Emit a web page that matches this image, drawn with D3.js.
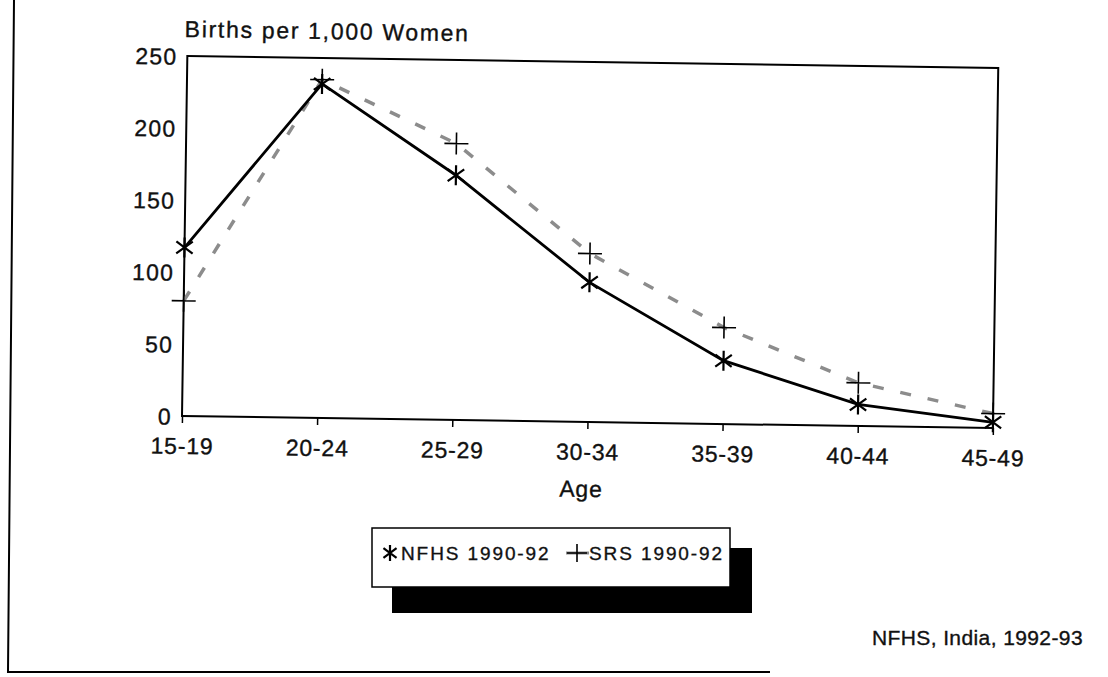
<!DOCTYPE html>
<html>
<head>
<meta charset="utf-8">
<script src="https://cdn.jsdelivr.net/npm/d3@7"></script>
<style>
  body { margin: 0; background: #fff; }
  svg text { font-family: "Liberation Sans", Arial, sans-serif; fill: #111; stroke: #111; stroke-width: 0.35px; }
</style>
</head>
<body>
<div id="chart"></div>
<script>
const ages = ['15-19', '20-24', '25-29', '30-34', '35-39', '40-44', '45-49']
const nfhs = [117, 232, 170, 97, 44, 15, 4]
const srs = [80, 235, 192, 117, 67, 30, 10]
const yTicks = [0, 50, 100, 150, 200, 250]

const width = 1108
const height = 677

const svg = d3.select('#chart')
  .append('svg')
  .attr('width', width)
  .attr('height', height)

// outer page frame (only left + bottom edges survive in the scan)
svg.append('path')
  .attr('d', 'M14,0 L8,672 L770,672')
  .attr('fill', 'none')
  .attr('stroke', '#000')
  .attr('stroke-width', 2)

const plotLeft = 182, plotRight = 993, plotTop = 56, plotBottom = 416

// the scanned page is a little tilted
const g = svg.append('g')
  .attr('transform', `rotate(0.85, ${plotLeft}, ${plotBottom})`)

const x = d3.scalePoint().domain(ages).range([plotLeft, plotRight])
const y = d3.scaleLinear().domain([0, 250]).range([plotBottom, plotTop])

// plot frame
g.append('rect')
  .attr('x', plotLeft).attr('y', plotTop)
  .attr('width', plotRight - plotLeft).attr('height', plotBottom - plotTop)
  .attr('fill', 'none')
  .attr('stroke', '#000')
  .attr('stroke-width', 2)

// x axis
const xAxis = g.append('g')
  .attr('transform', `translate(0,${plotBottom})`)
  .call(d3.axisBottom(x).tickSize(7))
xAxis.select('.domain').remove()
xAxis.selectAll('line').attr('stroke', '#000').attr('stroke-width', 1.5)
xAxis.selectAll('text')
  .attr('font-size', 23)
  .attr('letter-spacing', 0.8)
  .attr('dy', 0)
  .attr('y', 38)
  .style('fill', '#111')

// y axis
const yAxis = g.append('g')
  .attr('transform', `translate(${plotLeft},0)`)
  .call(d3.axisLeft(y).tickValues(yTicks).tickSize(0).tickPadding(10))
yAxis.select('.domain').remove()
yAxis.selectAll('text')
  .attr('font-size', 23)
  .attr('letter-spacing', 1.2)
  .attr('dy', '0.36em')
  .style('fill', '#111')

g.append('text')
  .attr('x', 179).attr('y', 37)
  .attr('font-size', 23)
  .attr('letter-spacing', 1.7)
  .text('Births per 1,000 Women')

g.append('text')
  .attr('x', 582).attr('y', 491)
  .attr('text-anchor', 'middle')
  .attr('font-size', 23)
  .attr('letter-spacing', 0.8)
  .text('Age')

// series lines
const line = d3.line()
  .x((d, i) => x(ages[i]))
  .y(d => y(d))

g.append('path')
  .datum(srs)
  .attr('d', line)
  .attr('fill', 'none')
  .attr('stroke', '#8c8c8c')
  .attr('stroke-width', 3.5)
  .attr('stroke-dasharray', '11,17')

g.append('path')
  .datum(nfhs)
  .attr('d', line)
  .attr('fill', 'none')
  .attr('stroke', '#000')
  .attr('stroke-width', 2.8)

function asterisk(sel, r) {
  const d = r * 0.82
  sel.append('path')
    .attr('d', `M0,${-r}V${r}M${-d},${-r * 0.6}L${d},${r * 0.6}M${-d},${r * 0.6}L${d},${-r * 0.6}`)
    .attr('stroke', '#000')
    .attr('stroke-width', 2.2)
    .attr('fill', 'none')
}

function plus(sel, r) {
  sel.append('path')
    .attr('d', `M0,${-r}V${r}M${-r - 1},0H${r + 1}`)
    .attr('stroke', '#000')
    .attr('stroke-width', 1.6)
    .attr('fill', 'none')
}

g.selectAll('.srs-mark')
  .data(srs)
  .enter().append('g')
  .attr('class', 'srs-mark')
  .attr('transform', (d, i) => `translate(${x(ages[i])},${y(d)})`)
  .each(function () { plus(d3.select(this), 11) })

g.selectAll('.nfhs-mark')
  .data(nfhs)
  .enter().append('g')
  .attr('class', 'nfhs-mark')
  .attr('transform', (d, i) => `translate(${x(ages[i])},${y(d)})`)
  .each(function () { asterisk(d3.select(this), 10) })

// legend with drop shadow
const lg = svg.append('g')
lg.append('rect')
  .attr('x', 392).attr('y', 548)
  .attr('width', 360).attr('height', 65)
  .attr('fill', '#000')
lg.append('rect')
  .attr('x', 372).attr('y', 528)
  .attr('width', 358).attr('height', 59)
  .attr('fill', '#fff')
  .attr('stroke', '#000')
  .attr('stroke-width', 1.5)

asterisk(lg.append('g').attr('transform', 'translate(390,553)'), 8)
lg.append('text')
  .attr('x', 401).attr('y', 560)
  .attr('font-size', 19)
  .attr('letter-spacing', 1.9)
  .text('NFHS 1990-92')

lg.append('line')
  .attr('x1', 566).attr('x2', 589)
  .attr('y1', 553).attr('y2', 553)
  .attr('stroke', '#8c8c8c')
  .attr('stroke-width', 3)
plus(lg.append('g').attr('transform', 'translate(577,553)'), 9)
lg.append('text')
  .attr('x', 589).attr('y', 560)
  .attr('font-size', 19)
  .attr('letter-spacing', 1.9)
  .text('SRS 1990-92')

svg.append('text')
  .attr('x', 1083).attr('y', 645)
  .attr('text-anchor', 'end')
  .attr('font-size', 21)
  .attr('letter-spacing', 0.4)
  .text('NFHS, India, 1992-93')
</script>
</body>
</html>
